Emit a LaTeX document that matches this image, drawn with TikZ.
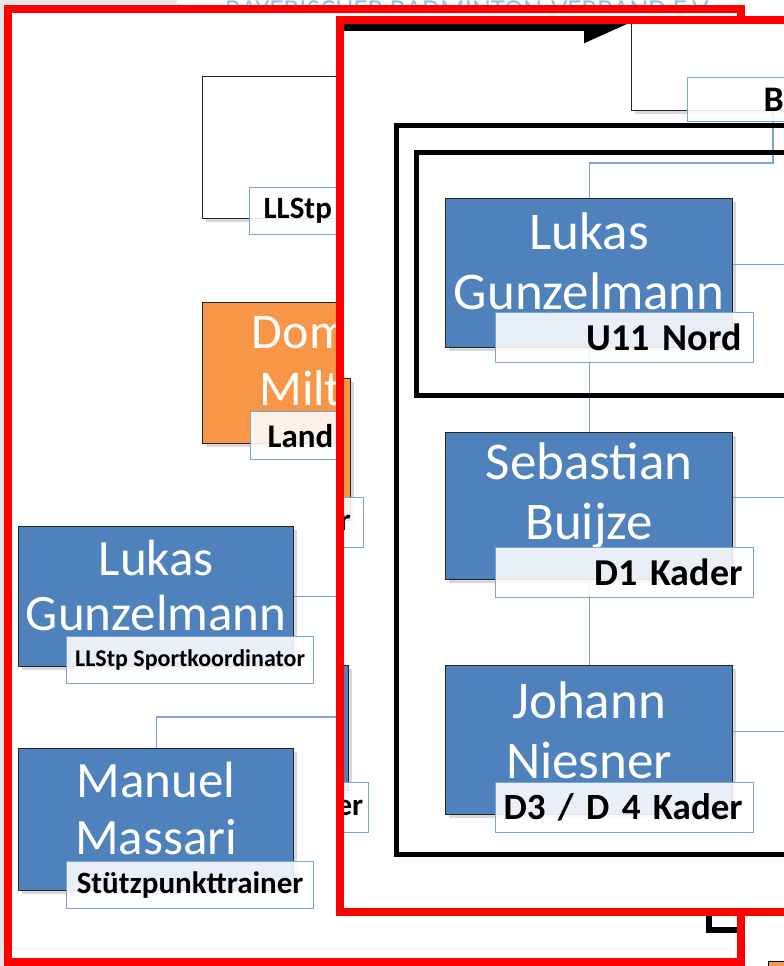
\documentclass[tikz,border=0pt]{standalone}
\usepackage{fontspec}
\setmainfont{Carlito}
\usetikzlibrary{arrows.meta,positioning,shadows}
\definecolor{boxblue}{HTML}{4F81BD}
\definecolor{boxorange}{HTML}{F79646}
\definecolor{labblue}{HTML}{7BA3D4}
\definecolor{linkblue}{HTML}{7EA1CF}
\definecolor{framered}{HTML}{FF0000}
\definecolor{fadeblue}{HTML}{8CC4E8}
\definecolor{sidegray}{HTML}{E6E6E6}

\begin{document}
\begin{tikzpicture}[x=1pt,y=-1pt,
  person/.style={draw=black!85,line width=1.3pt,fill=boxblue,anchor=north west,inner sep=0pt,
    drop shadow={shadow xshift=3pt,shadow yshift=-3pt,opacity=0.3}},
  whitebox/.style={person,fill=white},
  orangebox/.style={person,fill=boxorange},
  role/.style={draw=labblue,line width=1.2pt,fill=white,fill opacity=0.88,text opacity=1,
    anchor=north west,inner ysep=0pt,font=\bfseries\fontsize{#1}{#1}\selectfont},
  who/.style={text=white,align=center},
  link/.style={draw=linkblue,line width=1.3pt},
  redframe/.style={draw=framered,line width=8pt},
  blackframe/.style={draw=black,line width=5pt}]
  \useasboundingbox (0,0) rectangle (784,966);
  \fill[white] (0,0) rectangle (784,966);
  \fill[sidegray] (0,0) rectangle (4,966);
  \fill[sidegray] (0,0) rectangle (177,4);
  \node[anchor=base west,inner sep=0pt,text=fadeblue,font=\fontsize{29}{29}\selectfont] (title) at (225,20) {BAYERISCHER BADMINTON-VERBAND E.V.};
  \node[draw=black,fill=boxorange,anchor=north west,minimum width=30pt,minimum height=10pt] (cornerbox) at (768,961) {};
  \fill[white] (7.5,9) rectangle (741,962);

  \node[whitebox,minimum width=287pt,minimum height=142pt] (llstp) at (202,76) {};
  \node[role=31,minimum width=258pt,minimum height=47pt,text width=230pt,inner xsep=14pt,align=left] (llstpRole) at (249,187) {LLStp};
  \node[orangebox,minimum width=287pt,minimum height=141pt] (dom) at (202,302) {};
  \node[who,font=\fontsize{50}{57}\selectfont] (domName) at (300.5,361.5) {Dom\\Milt};
  \node[role=33,minimum width=258pt,minimum height=48pt,text width=224pt,inner xsep=17pt,align=left] (domRole) at (250,411) {Land};

  \node[person,minimum width=275pt,minimum height=140pt] (lukasL) at (18,526) {};
  \node[person,minimum width=275pt,minimum height=142pt] (manuel) at (18,748) {};
  \coordinate (edgeL) at (338,0);
  \coordinate (manuelBend) at (338,717);
  \draw[link] (lukasL.east) -- (lukasL.east -| edgeL);
  \draw[link] (manuelBend) -| (manuel.north);
  \node[who,font=\fontsize{51}{55}\selectfont] (lukasLName) at ([yshift=11pt]lukasL.center) {Lukas\\Gunzelmann};
  \node[who,font=\fontsize{51}{57}\selectfont] (manuelName) at ([yshift=11pt]manuel.center) {Manuel\\Massari};
  \node[role=24,minimum width=247pt,minimum height=47pt] (lukasLRole) at (66,636) {LLStp Sportkoordinator};
  \node[role=31,minimum width=247pt,minimum height=47pt] (manuelRole) at (66,861) {Stützpunkttrainer};

  \coordinate (cornerTop) at (709,912);
  \coordinate (cornerEnd) at (741,929.5);
  \draw[line width=6pt] (cornerTop) |- (cornerEnd);
  \draw[redframe] (7.5,9) rectangle (741,962);

  \fill[white] (340,20.5) rectangle (800,911.5);
  \node[orangebox,minimum width=11pt,minimum height=142pt] (hiddenOrange) at (339,378) {};
  \node[role=31,minimum width=27pt,minimum height=50pt,text width=27pt,inner xsep=0pt,align=left] (hiddenOrangeRole) at (336,497) {\hspace*{3pt}r};
  \node[person,minimum width=10pt,minimum height=125pt] (hiddenBlue) at (338,665) {};
  \node[role=31,minimum width=32pt,minimum height=50pt,text width=32pt,inner xsep=0pt,align=left] (hiddenBlueRole) at (336,782) {er};

  \node[whitebox,minimum width=300pt,minimum height=91pt] (bezirk) at (631,19) {};
  \coordinate (arrowStart) at (344,27);
  \draw[line width=8pt,-{Triangle[harpoon,swap,length=37pt,width=30pt]}] (arrowStart) -- (bezirk.west |- arrowStart);

  \node[person,minimum width=287pt,minimum height=149pt] (lukasR) at (445,198) {};
  \node[person,minimum width=287pt,minimum height=147pt] (sebastian) at (445,432) {};
  \node[person,minimum width=287pt,minimum height=149pt] (johann) at (445,665) {};
  \coordinate (bezirkDrop) at (773,110);
  \coordinate (bezirkBend) at (773,163);
  \coordinate (rightOut) at (800,0);
  \draw[link] (bezirkDrop) -- (bezirkBend) -| (lukasR.north);
  \draw[link] (lukasR.south) -- (sebastian.north);
  \draw[link] (sebastian.south) -- (johann.north);
  \foreach \p in {lukasR,sebastian,johann}
    \draw[link] ([yshift=9pt]\p.east) -- ([yshift=9pt]\p.east -| rightOut);
  \draw[blackframe] (396,125) rectangle (800,854);
  \draw[blackframe] (416,152) rectangle (800,395);

  \node[who,font=\fontsize{53}{60}\selectfont] (lukasRName) at ([yshift=12pt]lukasR.center) {Lukas\\Gunzelmann};
  \node[who,font=\fontsize{53}{60}\selectfont] (sebastianName) at ([yshift=11pt]sebastian.center) {Sebastian\\Buijze};
  \node[who,font=\fontsize{53}{60}\selectfont] (johannName) at ([yshift=10pt]johann.center) {Johann\\Niesner};
  \node[role=36,minimum width=258pt,minimum height=44pt,text width=106pt,inner xsep=76pt,align=left] (bezirkRole) at (687,77) {B};
  \node[role=38,minimum width=258pt,minimum height=50pt,text width=246pt,inner xsep=6pt,align=right] (lukasRRole) at (495,312) {U11 Nord\kern6pt};
  \node[role=38,minimum width=258pt,minimum height=50pt,text width=246pt,inner xsep=6pt,align=right] (sebastianRole) at (495,547) {D1 Kader\kern5pt};
  \node[role=37,minimum width=258pt,minimum height=50pt,text width=246pt,inner xsep=6pt,align=right] (johannRole) at (495,782) {D3 / D 4 Kader\kern5pt};

  \draw[redframe] (340,20.5) rectangle (800,911.5);
\end{tikzpicture}
\end{document}
